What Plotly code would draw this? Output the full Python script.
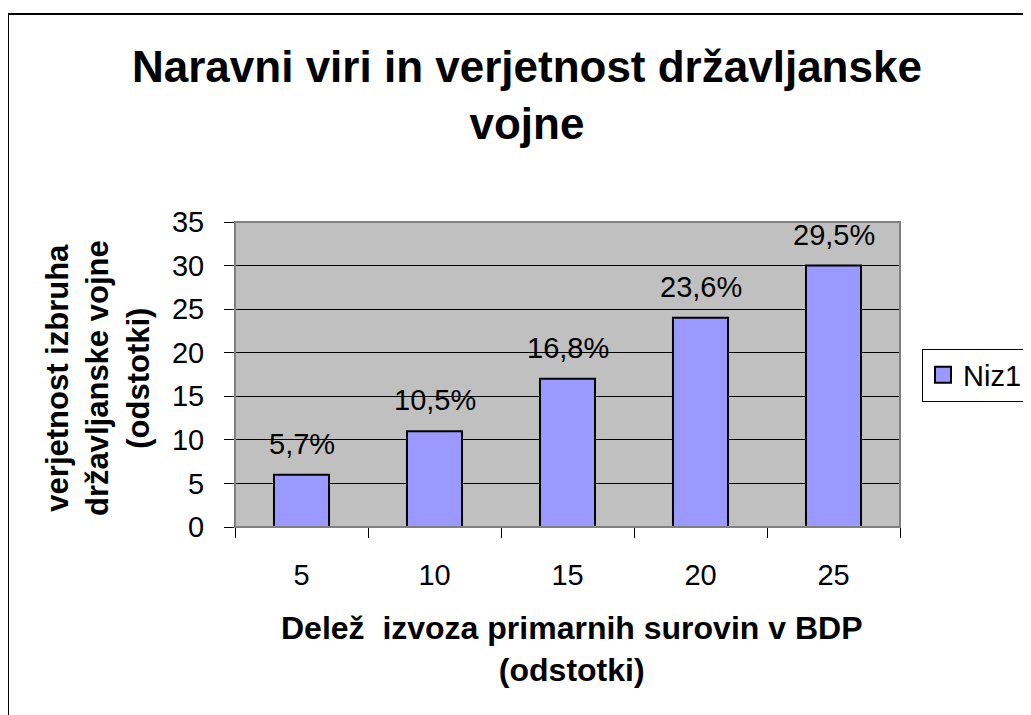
import plotly.graph_objects as go

# ---- data ----
categories = ["5", "10", "15", "20", "25"]
values = [6, 11, 17, 24, 30]
labels = ["5,7%", "10,5%", "16,8%", "23,6%", "29,5%"]
series_name = "Niz1"
y_ticks = [0, 5, 10, 15, 20, 25, 30, 35]

title_text = "Naravni viri in verjetnost državljanske<br>vojne"
x_title = "Delež\u00a0 izvoza primarnih surovin v BDP<br>(odstotki)"
y_title = "verjetnost izbruha<br>državljanske vojne<br>(odstotki)"

# page offset (default body margin of the html page)
OFF = 8
PAGE_W, PAGE_H = 1031, 715
W, H = PAGE_W - OFF, PAGE_H - OFF
# plot area in page px
PL, PR, PT, PB = 235, 900, 222, 527
L, R, T, B = PL - OFF, PR - OFF, PT - OFF, PB - OFF
FONT = "Arial, 'Liberation Sans', sans-serif"
BAR_COLOR = "#9999FF"

def px_x(page_x):
    return (page_x - PL) / (PR - PL)

def px_y(page_y):
    return (PB - page_y) / (PB - PT)

fig = go.Figure()
fig.add_trace(go.Bar(
    x=categories, y=values, name=series_name,
    marker=dict(color=BAR_COLOR, line=dict(color="black", width=2)),
    showlegend=False, legendgroup="s1",
))
# legend entry with a larger square swatch (no data drawn)
fig.add_trace(go.Scatter(
    x=[None], y=[None], mode="markers", name=series_name, legendgroup="s1",
    marker=dict(symbol="square", size=17, color=BAR_COLOR, line=dict(color="black", width=2)),
    showlegend=True, hoverinfo="skip",
))

# data labels (category axis: position by category index)
for i, (v, t) in enumerate(zip(values, labels)):
    fig.add_annotation(x=i, y=v, text=t, showarrow=False, xref="x", yref="y",
                       yanchor="bottom", yshift=13,
                       font=dict(family=FONT, size=29, color="black"))

# chart title
fig.add_annotation(x=px_x(527), y=px_y(40), xref="paper", yref="paper",
                   text="<b>" + title_text + "</b>", showarrow=False,
                   xanchor="center", yanchor="top",
                   font=dict(family=FONT, size=44, color="black"))

# axis titles
fig.add_annotation(x=px_x(571), y=px_y(608), xref="paper", yref="paper",
                   text="<b>" + x_title + "</b>", showarrow=False,
                   xanchor="center", yanchor="top",
                   font=dict(family=FONT, size=32, color="black"))
fig.add_annotation(x=px_x(98), y=px_y(378), xref="paper", yref="paper",
                   text="<b>" + y_title + "</b>", showarrow=False, textangle=-90,
                   xanchor="center", yanchor="middle",
                   font=dict(family=FONT, size=31, color="black"))

# outer chart border and plot area border
fig.add_shape(type="rect", xref="paper", yref="paper",
              x0=px_x(8), x1=px_x(1045), y0=px_y(730), y1=px_y(14),
              line=dict(color="black", width=2), fillcolor="rgba(0,0,0,0)", layer="below")
fig.add_shape(type="rect", xref="paper", yref="paper",
              x0=0, x1=1, y0=0, y1=1,
              line=dict(color="#808080", width=2), fillcolor="rgba(0,0,0,0)", layer="above")

fig.update_layout(
    width=W, height=H,
    margin=dict(l=L, r=W - R, t=T, b=H - B, pad=0, autoexpand=False),
    paper_bgcolor="white",
    plot_bgcolor="#C0C0C0",
    bargap=0.586,
    font=dict(family=FONT, color="black"),
    legend=dict(x=px_x(922), y=px_y(375), xanchor="left", yanchor="middle",
                bgcolor="white", bordercolor="black", borderwidth=1,
                itemsizing="trace", itemwidth=30,
                font=dict(family=FONT, size=29, color="black")),
    xaxis=dict(type="category", range=[-0.5, 4.5], tickson="boundaries", ticks="outside", ticklen=10,
               tickcolor="black", tickwidth=1, showline=True, linecolor="black", linewidth=1,
               showgrid=False, tickfont=dict(family=FONT, size=29, color="black"),
               tickangle=0, automargin=False, ticklabelstandoff=22, fixedrange=True),
    yaxis=dict(range=[0, 35], tickvals=y_ticks, ticks="outside", ticklen=10,
               tickcolor="black", tickwidth=1, showline=True, linecolor="#808080", linewidth=1,
               showgrid=True, gridcolor="black", gridwidth=1, zeroline=False,
               tickfont=dict(family=FONT, size=29, color="black"),
               automargin=False, ticklabelstandoff=14, fixedrange=True),
)

fig.write_html("out.html")
